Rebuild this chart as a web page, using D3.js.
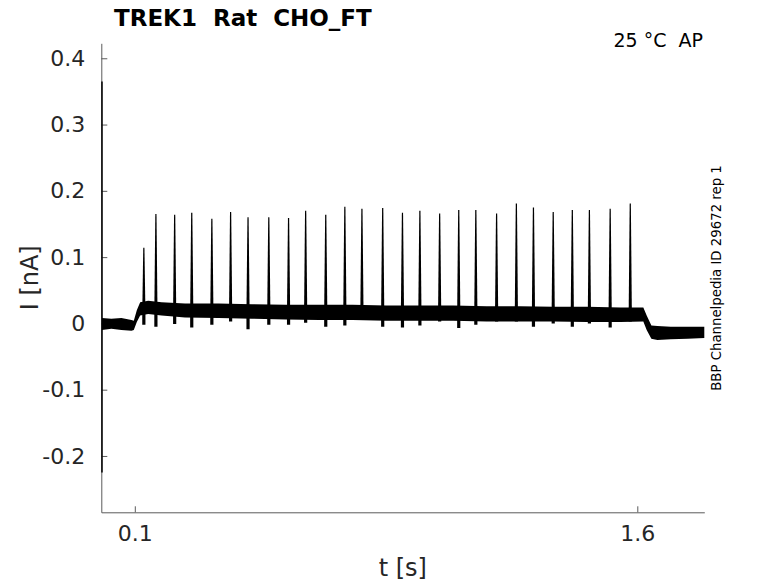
<!DOCTYPE html>
<html>
<head>
<meta charset="utf-8">
<script src="https://cdn.jsdelivr.net/npm/d3@7"></script>
<style>
  body { margin: 0; background: #fff; }
  text { font-family: "DejaVu Sans", sans-serif; fill: #262626; }
  .axis path, .axis line { stroke: #5a5a5a; }
</style>
</head>
<body>
<svg id="chart" width="778" height="583"></svg>
<script>
// noisy baseline band (nA)
const bandT  = [0.002, 0.03, 0.06, 0.09, 0.097, 0.106, 0.116, 0.14, 0.18, 0.25, 0.35, 0.45, 0.55, 0.65, 0.75, 0.85, 0.95, 1.05, 1.15, 1.25, 1.35, 1.45, 1.55, 1.618, 1.628, 1.642, 1.66, 1.7, 1.75, 1.8];
const bandHi = [0.008, 0.007, 0.008, 0.005, 0.004, 0.020, 0.032, 0.034, 0.032, 0.030, 0.030, 0.029, 0.028, 0.028, 0.028, 0.027, 0.027, 0.027, 0.026, 0.026, 0.025, 0.025, 0.024, 0.024, 0.012, -0.003, -0.004, -0.005, -0.005, -0.005];
const bandLo = [-0.010, -0.008, -0.010, -0.011, -0.010, 0.002, 0.012, 0.014, 0.012, 0.009, 0.008, 0.007, 0.006, 0.005, 0.005, 0.004, 0.004, 0.004, 0.003, 0.003, 0.003, 0.002, 0.002, 0.003, -0.010, -0.023, -0.025, -0.024, -0.023, -0.022];

// action potential spikes
const spikeT    = [0.127, 0.163, 0.219, 0.270, 0.330, 0.386, 0.438, 0.500, 0.559, 0.610, 0.670, 0.727, 0.778, 0.840, 0.899, 0.951, 1.010, 1.067, 1.118, 1.180, 1.239, 1.290, 1.349, 1.406, 1.457, 1.519, 1.579];
const spikePeak = [0.114, 0.165, 0.164, 0.167, 0.158, 0.168, 0.160, 0.160, 0.159, 0.170, 0.164, 0.176, 0.173, 0.174, 0.167, 0.170, 0.166, 0.171, 0.171, 0.166, 0.181, 0.175, 0.168, 0.171, 0.171, 0.173, 0.181];
const spikeDip  = [-0.002, -0.005, -0.001, -0.006, -0.002, 0.003, -0.009, -0.002, -0.002, 0.001, -0.005, -0.003, 0.005, -0.005, -0.006, -0.003, 0.003, -0.007, -0.002, 0.003, 0.003, -0.005, 0.000, -0.005, 0.000, -0.006, 0.003];

// capacitive transient at the start
const transT = 0.002;
const transHi = 0.365;
const transLo = -0.225;

const xTicks = [0.1, 1.6];
const yTicks = [-0.2, -0.1, 0, 0.1, 0.2, 0.3, 0.4];

const LEFT = 101.3, RIGHT = 704.3, TOP = 43.3, BOTTOM = 512.3;

const svg = d3.select('#chart');

const x = d3.scaleLinear().domain([0, 1.8]).range([LEFT, RIGHT]);
const y = d3.scaleLinear().domain([-0.285, 0.4226]).range([BOTTOM, TOP]);

const fmt = d => d === 0 ? '0' : String(+d.toFixed(1));

svg.append('g')
    .attr('class', 'axis')
    .attr('transform', 'translate(0,' + BOTTOM + ')')
    .call(d3.axisBottom(x).tickValues(xTicks).tickFormat(fmt)
      .tickSizeInner(-6).tickSizeOuter(0).tickPadding(13))
    .call(g => g.selectAll('text').attr('font-size', 22).attr('font-family', null));

svg.append('g')
    .attr('class', 'axis')
    .attr('transform', 'translate(' + LEFT + ',0)')
    .call(d3.axisLeft(y).tickValues(yTicks).tickFormat(fmt)
      .tickSizeInner(-6).tickSizeOuter(0).tickPadding(16))
    .call(g => g.selectAll('text').attr('font-size', 22).attr('font-family', null));

const trace = svg.append('g');

const band = bandT.map((t, i) => ({t: t, hi: bandHi[i], lo: bandLo[i]}));
trace.append('path')
    .datum(band)
    .attr('fill', '#000')
    .attr('d', d3.area()
      .x(d => x(d.t))
      .y0(d => y(d.lo))
      .y1(d => y(d.hi)));

// each spike: a thin tapered stroke from its dip up to its peak
trace.selectAll('path.spike')
  .data(spikeT)
  .enter().append('path')
    .attr('class', 'spike')
    .attr('fill', '#000')
    .attr('d', (d, i) => {
      const cx = x(d), top = y(spikePeak[i]), bot = y(spikeDip[i]), mid = y(0.015);
      return 'M' + (cx - 1.6) + ',' + bot + 'L' + (cx - 1.6) + ',' + mid +
        'L' + (cx - 0.6) + ',' + top + 'L' + (cx + 0.6) + ',' + top +
        'L' + (cx + 1.6) + ',' + mid + 'L' + (cx + 1.6) + ',' + bot + 'Z';
    });

trace.append('line')
    .attr('x1', x(transT)).attr('x2', x(transT))
    .attr('y1', y(transHi)).attr('y2', y(transLo))
    .attr('stroke', '#000')
    .attr('stroke-width', 1.5);

// labels
svg.append('text')
    .attr('x', 114)
    .attr('y', 26)
    .attr('font-size', 23)
    .attr('font-weight', 'bold')
    .style('fill', '#000')
    .attr('xml:space', 'preserve')
    .text('TREK1  Rat  CHO_FT');

svg.append('text')
    .attr('x', 703)
    .attr('y', 47)
    .attr('text-anchor', 'end')
    .attr('font-size', 19)
    .style('fill', '#000')
    .attr('xml:space', 'preserve')
    .text('25 °C  AP');

svg.append('text')
    .attr('x', (LEFT + RIGHT) / 2)
    .attr('y', 576)
    .attr('text-anchor', 'middle')
    .attr('font-size', 24)
    .text('t [s]');

svg.append('text')
    .attr('transform', 'translate(38,' + (TOP + BOTTOM) / 2 + ') rotate(-90)')
    .attr('text-anchor', 'middle')
    .attr('font-size', 24)
    .text('I [nA]');

svg.append('text')
    .attr('transform', 'translate(721,278) rotate(-90)')
    .attr('text-anchor', 'middle')
    .attr('font-size', 13.3)
    .style('fill', '#000')
    .text('BBP Channelpedia ID 29672 rep 1');
</script>
</body>
</html>
